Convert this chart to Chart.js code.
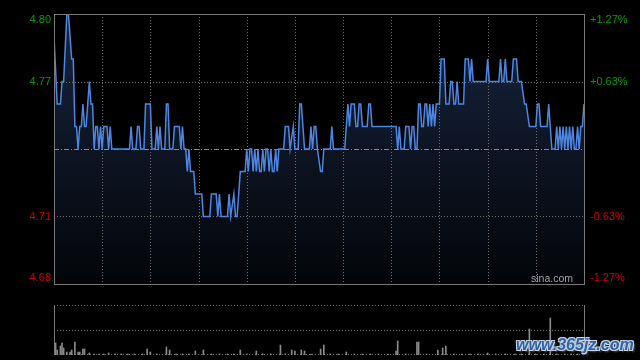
<!DOCTYPE html>
<html>
<head>
<meta charset="utf-8">
<script src="https://cdn.jsdelivr.net/npm/chart.js@4/dist/chart.umd.min.js"></script>
<style>
html, body { margin: 0; padding: 0; background: #000; }
#wrap { position: relative; width: 640px; height: 360px; overflow: hidden; background: #000; }
#priceChart { position: absolute; left: 0; top: 0; }
#volChart { position: absolute; left: 0; top: 296px; }
#mark {
    position: absolute; left: 516px; top: 336px;
    font: italic bold 16px "Liberation Sans", Arial, sans-serif;
    color: #2f63a8; letter-spacing: 0px;
    text-shadow: -1px -1px 0 #c8d4e4, 1px -1px 0 #c8d4e4, -1px 1px 0 #c8d4e4, 1px 1px 0 #c8d4e4, 2px 2px 2px #555;
}
</style>
</head>
<body>
<div id="wrap">
    <canvas id="priceChart" width="640" height="296"></canvas>
    <canvas id="volChart" width="640" height="64"></canvas>
    <div id="mark">www.365jz.com</div>
</div>
<script>
// minutes since open (330 trading minutes) and price at each turning point
const priceMin = [0, 2, 4, 5, 6, 8, 9, 11, 12, 13, 14, 15, 16, 17, 18, 19, 20, 22, 23, 24,
    25, 26, 27, 28, 29, 30, 31, 33, 34, 35, 36, 47, 48, 49, 51, 52, 53, 54, 56, 57,
    60, 61, 63, 64, 65, 66, 67, 69, 70, 71, 72, 74, 75, 78, 79, 80, 81, 82, 83, 84,
    85, 87, 88, 92, 93, 97, 98, 101, 102, 103, 104, 108, 109, 110, 112, 113, 114, 116, 119, 120,
    121, 122, 123, 124, 125, 126, 127, 128, 129, 130, 131, 132, 133, 134, 135, 136, 137, 138, 139, 140,
    143, 144, 146, 147, 149, 150, 152, 153, 154, 156, 159, 160, 161, 162, 163, 164, 166, 167, 168, 172,
    173, 174, 181, 183, 184, 185, 187, 188, 189, 190, 191, 192, 195, 196, 197, 198, 213, 214, 215, 216,
    218, 219, 221, 222, 223, 224, 225, 226, 227, 228, 229, 230, 231, 232, 233, 234, 235, 236, 237, 238,
    240, 241, 243, 244, 246, 247, 248, 249, 250, 251, 252, 255, 256, 258, 259, 260, 261, 269, 270, 271,
    277, 278, 279, 280, 281, 282, 285, 286, 288, 289, 291, 293, 294, 296, 300, 301, 302, 303, 307, 308,
    310, 312, 313, 314, 315, 316, 317, 318, 319, 320, 321, 322, 323, 324, 325, 326, 327, 328, 329, 330];
const priceVal = [4.79, 4.76, 4.76, 4.77, 4.77, 4.80, 4.80, 4.78, 4.78, 4.75, 4.75, 4.74, 4.75, 4.75, 4.76, 4.75, 4.75, 4.77, 4.76, 4.76,
    4.74, 4.75, 4.75, 4.74, 4.75, 4.74, 4.75, 4.75, 4.74, 4.75, 4.74, 4.74, 4.75, 4.74, 4.74, 4.75, 4.75, 4.74, 4.74, 4.76,
    4.76, 4.74, 4.74, 4.75, 4.74, 4.75, 4.74, 4.74, 4.76, 4.76, 4.74, 4.74, 4.75, 4.75, 4.74, 4.75, 4.74, 4.74, 4.73, 4.74,
    4.73, 4.73, 4.72, 4.72, 4.71, 4.71, 4.72, 4.72, 4.71, 4.72, 4.71, 4.71, 4.72, 4.71, 4.72, 4.71, 4.71, 4.73, 4.73, 4.74,
    4.73, 4.74, 4.74, 4.73, 4.74, 4.73, 4.74, 4.73, 4.73, 4.74, 4.73, 4.74, 4.74, 4.73, 4.74, 4.73, 4.73, 4.74, 4.73, 4.74,
    4.74, 4.75, 4.75, 4.74, 4.75, 4.74, 4.74, 4.76, 4.76, 4.74, 4.74, 4.75, 4.74, 4.75, 4.75, 4.74, 4.73, 4.73, 4.74, 4.74,
    4.75, 4.74, 4.74, 4.76, 4.75, 4.76, 4.76, 4.75, 4.75, 4.76, 4.76, 4.75, 4.75, 4.76, 4.76, 4.75, 4.75, 4.74, 4.75, 4.74,
    4.74, 4.75, 4.75, 4.74, 4.75, 4.75, 4.74, 4.74, 4.76, 4.76, 4.75, 4.75, 4.76, 4.76, 4.75, 4.76, 4.75, 4.76, 4.75, 4.76,
    4.76, 4.78, 4.78, 4.76, 4.76, 4.77, 4.77, 4.76, 4.76, 4.77, 4.76, 4.76, 4.78, 4.78, 4.77, 4.78, 4.77, 4.77, 4.78, 4.77,
    4.77, 4.78, 4.77, 4.77, 4.78, 4.77, 4.77, 4.78, 4.78, 4.77, 4.77, 4.76, 4.76, 4.75, 4.75, 4.76, 4.76, 4.75, 4.75, 4.76,
    4.74, 4.74, 4.75, 4.74, 4.75, 4.74, 4.75, 4.74, 4.75, 4.74, 4.75, 4.74, 4.75, 4.74, 4.74, 4.75, 4.74, 4.75, 4.75, 4.76];

// volume bars (minute, relative volume)
const volMin = [1, 2, 4, 5, 6, 8, 10, 11, 13, 15, 16, 18, 19, 22, 25, 28, 31, 34, 38, 42,
    46, 50, 55, 58, 60, 64, 70, 72, 76, 80, 84, 88, 93, 98, 103, 108, 112, 116, 120, 126,
    130, 135, 141, 144, 148, 150, 154, 156, 160, 166, 168, 172, 177, 182, 187, 192, 197, 202, 208, 213,
    214, 219, 226, 227, 232, 239, 242, 244, 249, 254, 259, 264, 270, 275, 281, 287, 291, 296, 300, 305,
    309, 313, 318, 322, 326, 330];
const volVal = [12, 5, 9, 12, 7, 3, 3, 5, 13, 3, 3, 6, 6, 2, 1, 1, 1, 2, 1, 1,
    1, 1, 1, 6, 3, 1, 8, 5, 1, 1, 1, 4, 5, 1, 1, 1, 1, 5, 1, 4,
    1, 1, 10, 1, 5, 4, 5, 4, 1, 6, 10, 1, 1, 3, 1, 1, 1, 1, 1, 4,
    14, 1, 13, 13, 1, 5, 7, 9, 1, 1, 1, 1, 2, 1, 1, 1, 1, 26, 1, 1,
    37, 1, 1, 1, 1, 2];

const prevClose = 4.74;
const priceTicks = [4.80, 4.77, 4.71, 4.68];
const priceTickLabels = ['4.80', '4.77', '4.71', '4.68'];
const pctTickLabels = ['+1.27%', '+0.63%', '-0.63%', '-1.27%'];
const gridMinutes = [30, 60, 90, 120, 150, 180, 210, 240, 270, 300];

const labelFont = '11px "Liberation Sans", Arial, sans-serif';

function seg(ctx, x1, y1, x2, y2) {
    ctx.beginPath();
    ctx.moveTo(x1, y1);
    ctx.lineTo(x2, y2);
    ctx.stroke();
}

// grid, frame and labels of the price panel
const priceDecor = {
    id: 'priceDecor',
    beforeDatasetsDraw(chart) {
        const { ctx, chartArea: a, scales: { x, y } } = chart;
        ctx.save();
        ctx.lineWidth = 1;
        ctx.strokeStyle = '#6e6e6e';
        ctx.setLineDash([1, 2]);
        gridMinutes.forEach(m => {
            const px = Math.round(x.getPixelForValue(m)) + 0.5;
            seg(ctx, px, a.top, px, a.bottom);
        });
        priceTicks.slice(1, -1).forEach(v => {
            const py = Math.round(y.getPixelForValue(v)) + 0.5;
            seg(ctx, a.left, py, a.right, py);
        });
        ctx.strokeStyle = '#8a8a8a';
        ctx.setLineDash([5, 2, 1, 2]);
        const pc = Math.round(y.getPixelForValue(prevClose)) + 0.5;
        seg(ctx, a.left, pc, a.right, pc);
        ctx.restore();
    },
    afterDraw(chart) {
        const { ctx, chartArea: a, scales: { y } } = chart;
        ctx.save();
        ctx.lineWidth = 1;
        ctx.strokeStyle = '#787878';
        ctx.strokeRect(a.left + 0.5, a.top + 0.5, a.right - a.left, a.bottom - a.top);
        ctx.font = labelFont;
        ctx.textBaseline = 'middle';
        priceTicks.forEach((v, i) => {
            let py = y.getPixelForValue(v);
            py = Math.min(Math.max(py, a.top + 6), a.bottom - 6);
            ctx.fillStyle = v > prevClose ? '#0c9a0c' : '#d40000';
            ctx.textAlign = 'right';
            ctx.fillText(priceTickLabels[i], a.left - 3, py);
            ctx.textAlign = 'left';
            ctx.fillText(pctTickLabels[i], a.right + 6, py);
        });
        ctx.fillStyle = '#a0a0a0';
        ctx.textAlign = 'right';
        ctx.font = '10.5px "Liberation Sans", Arial, sans-serif';
        ctx.fillText('sina.com', a.right - 11, a.bottom - 5);
        ctx.restore();
    }
};

const priceChart = new Chart(document.getElementById('priceChart'), {
    type: 'line',
    data: {
        datasets: [{
            data: priceMin.map((m, i) => ({ x: m, y: priceVal[i] })),
            borderColor: '#4d86e2',
            borderWidth: 1.5,
            pointRadius: 0,
            tension: 0,
            fill: 'start',
            backgroundColor: (c) => {
                const a = c.chart.chartArea;
                if (!a) return 'rgba(0,0,0,0)';
                const g = c.chart.ctx.createLinearGradient(0, a.top, 0, a.bottom);
                g.addColorStop(0, '#17253f');
                g.addColorStop(1, '#030508');
                return g;
            }
        }]
    },
    options: {
        responsive: false,
        animation: false,
        layout: { padding: { left: 54, right: 56, top: 14, bottom: 12 } },
        scales: {
            x: { type: 'linear', min: 0, max: 330, display: false },
            y: { min: 4.68, max: 4.80, display: false }
        },
        plugins: {
            legend: { display: false },
            tooltip: { enabled: false },
            filler: { drawTime: 'beforeDraw' }
        }
    },
    plugins: [priceDecor]
});

// frame of the volume panel
const volDecor = {
    id: 'volDecor',
    beforeDatasetsDraw(chart) {
        const { ctx, chartArea: a } = chart;
        ctx.save();
        ctx.lineWidth = 1;
        ctx.strokeStyle = '#6e6e6e';
        ctx.setLineDash([1, 2]);
        const mid = Math.round((a.top + a.bottom) / 2) + 0.5;
        seg(ctx, a.left, a.top + 0.5, a.right, a.top + 0.5);
        seg(ctx, a.left, mid, a.right, mid);
        seg(ctx, a.left, a.bottom - 0.5, a.right, a.bottom - 0.5);
        ctx.setLineDash([]);
        ctx.strokeStyle = '#787878';
        seg(ctx, a.left + 0.5, a.top, a.left + 0.5, a.bottom);
        seg(ctx, a.right + 0.5, a.top, a.right + 0.5, a.bottom);
        ctx.restore();
    }
};

const volChart = new Chart(document.getElementById('volChart'), {
    type: 'bar',
    data: {
        datasets: [{
            data: volMin.map((m, i) => ({ x: m, y: volVal[i] })),
            backgroundColor: '#8a8a8a',
            barThickness: 1
        }]
    },
    options: {
        responsive: false,
        animation: false,
        layout: { padding: { left: 54, right: 56, top: 9, bottom: 5 } },
        scales: {
            x: { type: 'linear', min: 0, max: 330, offset: false, display: false },
            y: { min: 0, max: 50, display: false }
        },
        plugins: {
            legend: { display: false },
            tooltip: { enabled: false }
        }
    },
    plugins: [volDecor]
});
</script>
</body>
</html>
